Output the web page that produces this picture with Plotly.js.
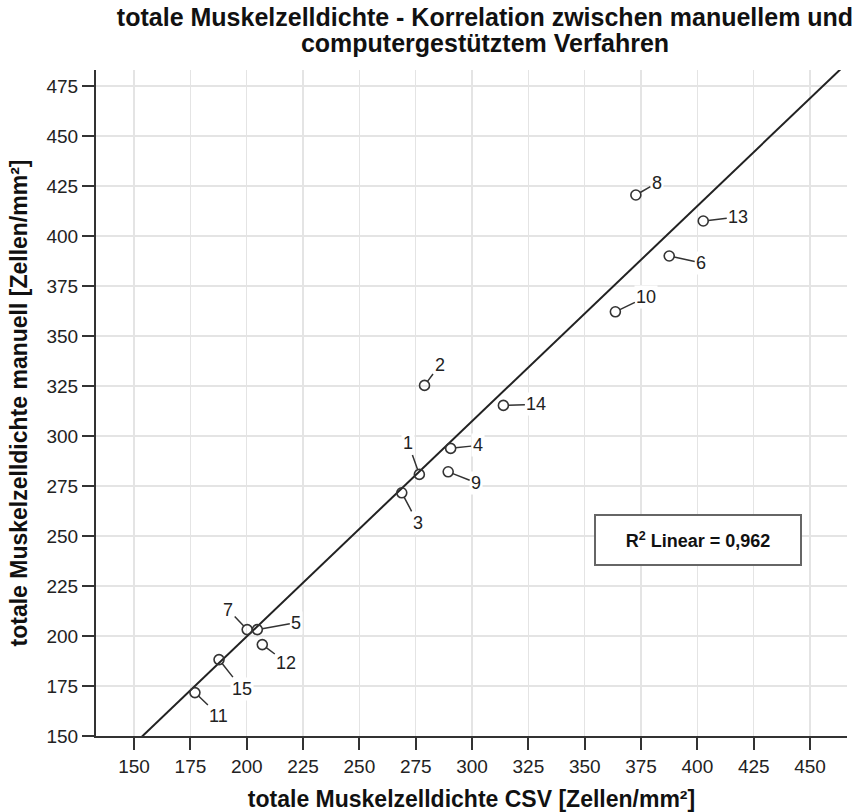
<!DOCTYPE html>
<html>
<head>
<meta charset="utf-8">
<script src="https://cdn.plot.ly/plotly-3.0.1.min.js"></script>
<style>html,body{margin:0;padding:0;background:#fff}#chart{width:861px;height:812px}</style>
</head>
<body>
<div id="chart"></div>
<script>
// ---- data ----
const caseIds = ['1','2','3','4','5','6','7','8','9','10','11','12','13','14','15'];
const csvDensity = [276.6, 278.9, 268.8, 290.5, 204.7, 387.5, 200.2, 372.7, 289.4, 363.6, 177.0, 206.9, 402.6, 313.9, 187.7];
const manualDensity = [280.8, 325.3, 271.6, 293.8, 203.2, 390.0, 203.2, 420.5, 282.1, 362.1, 171.7, 195.7, 407.5, 315.3, 188.2];
const fitSlope = 1.0763;
const fitIntercept = -15.5;
const rSquaredText = '0,962';
const xTickValues = [150,175,200,225,250,275,300,325,350,375,400,425,450];
const yTickValues = [150,175,200,225,250,275,300,325,350,375,400,425,450,475];
const titleLines = ['totale Muskelzelldichte - Korrelation zwischen manuellem und', 'computergestütztem Verfahren'];
const xTitle = 'totale Muskelzelldichte CSV [Zellen/mm²]';
const yTitle = 'totale Muskelzelldichte manuell [Zellen/mm²]';

// ---- layout / style ----
const xRange = [133.1, 466.4];
const yRange = [150, 483];
// label offsets (pixels) for each case label, in caseIds order
const labelOffsets = [[-11,-31],[15,-20],[16,30],[27,-3],[39,-7],[32,7],[-19,-20],[21,-12],[28,11],[31,-15],[24,23],[24,18],[35,-4],[33,-1],[23,29]];

const FONT = 'Liberation Sans, Arial, sans-serif';
const fitX = [xRange[0], xRange[1]];
const fitY = fitX.map(v => fitIntercept + fitSlope * v);

const traces = [
  {
    x: fitX, y: fitY, mode: 'lines', type: 'scatter',
    line: {color: '#222', width: 2}, hoverinfo: 'skip', showlegend: false
  },
  {
    x: csvDensity, y: manualDensity, mode: 'markers', type: 'scatter',
    text: caseIds,
    marker: {symbol: 'circle-open', size: 10, color: '#333', line: {width: 1.6, color: '#333'}},
    showlegend: false
  }
];

const annotations = caseIds.map((id, i) => ({
  x: csvDensity[i], y: manualDensity[i], xref: 'x', yref: 'y',
  text: id, showarrow: true, arrowhead: 0, arrowwidth: 1.5, arrowcolor: '#333',
  ax: labelOffsets[i][0], ay: labelOffsets[i][1], standoff: 5,
  bgcolor: 'white', borderpad: 1,
  font: {family: FONT, size: 18, color: '#222'}
}));

annotations.push({
  xref: 'paper', yref: 'paper', x: 0.801, y: 0.294, xanchor: 'center', yanchor: 'middle',
  text: '<b>R<sup>2</sup> Linear = ' + rSquaredText + '</b>', showarrow: false,
  bgcolor: 'white', bordercolor: '#666', borderwidth: 2, borderpad: 4,
  width: 196, height: 40,
  font: {family: FONT, size: 18, color: '#111'}
});

const axisCommon = {
  showline: true, linecolor: '#333', linewidth: 2,
  ticks: 'outside', ticklen: 12, tickwidth: 2, tickcolor: '#333',
  showgrid: true, gridcolor: '#e4e4e4', gridwidth: 1.5,
  zeroline: false, mirror: false,
  tickfont: {family: FONT, size: 19, color: '#222'}
};

const titleHtml = titleLines.map(s => '<span style="font-size:25px"><b>' + s + '</b></span>').join('<br>');

const layout = {
  width: 861, height: 812,
  margin: {l: 96, r: 14, t: 70, b: 76},
  paper_bgcolor: 'white', plot_bgcolor: 'white',
  title: {
    text: titleHtml,
    x: 0.5633, xanchor: 'center', xref: 'container',
    y: 0.9675, yanchor: 'top', yref: 'container',
    font: {family: FONT, size: 20, color: '#111'}
  },
  xaxis: Object.assign({}, axisCommon, {
    range: xRange, tickvals: xTickValues,
    title: {text: '<b>' + xTitle + '</b>', standoff: 16,
      font: {family: FONT, size: 23, color: '#111'}}
  }),
  yaxis: Object.assign({}, axisCommon, {
    range: yRange, tickvals: yTickValues,
    title: {text: '<b>' + yTitle + '</b>', standoff: 12,
      font: {family: FONT, size: 23, color: '#111'}}
  }),
  annotations: annotations,
  showlegend: false
};

Plotly.newPlot('chart', traces, layout, {displayModeBar: false, staticPlot: true});
</script>
</body>
</html>
